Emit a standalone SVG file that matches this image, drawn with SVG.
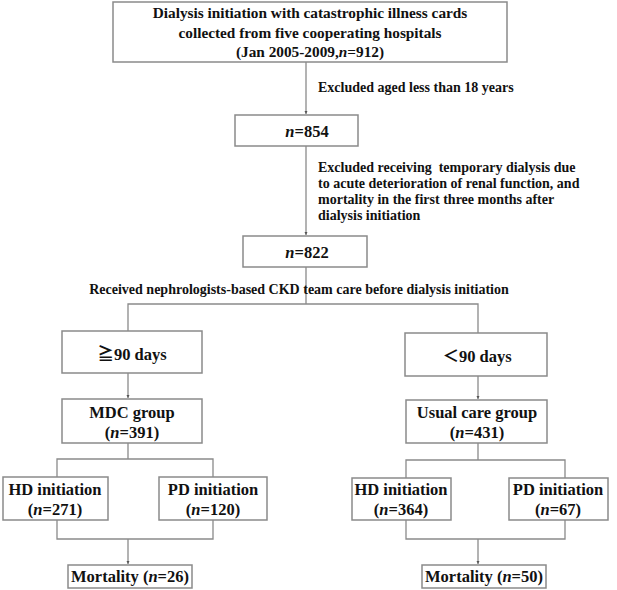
<svg xmlns="http://www.w3.org/2000/svg" width="617" height="590" viewBox="0 0 617 590">
<style>
.box{fill:#fff;stroke:#8a8a8a;stroke-width:1.5}
.ln{fill:none;stroke:#8a8a8a;stroke-width:1.3}
text{font-family:"Liberation Serif","Times New Roman","Noto Sans CJK SC",serif;font-weight:bold;fill:#111}
.t{font-size:16.5px;text-anchor:middle}
.h{font-size:15.3px;text-anchor:middle}
.s{font-size:14px}
</style>
<defs>
<marker id="ar" markerWidth="4" markerHeight="4" refX="3" refY="2" orient="auto" markerUnits="userSpaceOnUse">
<path d="M0,0.5 L3,2 L0,3.5 Z" fill="#555"/>
</marker>
</defs>
<rect width="617" height="590" fill="#fff"/>
<g id="connectors">
<path class="ln" d="M306,62 V114" marker-end="url(#ar)"/>
<path class="ln" d="M306,146 V235" marker-end="url(#ar)"/>
<path class="ln" d="M306,267 V304 M128,331 V304 H478 V333"/>
<path class="ln" d="M128,373 V398" marker-end="url(#ar)"/>
<path class="ln" d="M478,376 V399" marker-end="url(#ar)"/>
<path class="ln" d="M128,443 V459 M57,477 V459 H213 V477"/>
<path class="ln" d="M478,443 V460 M406,478 V460 H565 V478"/>
<path class="ln" d="M57,520 V539 H213 V520"/>
<path class="ln" d="M128,539 V564" marker-end="url(#ar)"/>
<path class="ln" d="M406,520 V539 H565 V520"/>
<path class="ln" d="M478,539 V564" marker-end="url(#ar)"/>
</g>
<g id="n-top">
<rect class="box" x="113" y="2" width="394" height="60"/>
<text class="h" x="310" y="18">Dialysis initiation with catastrophic illness cards</text>
<text class="h" x="310" y="38">collected from five cooperating hospitals</text>
<text class="h" x="310" y="57">(Jan 2005-2009,<tspan font-style="italic">n</tspan>=912)</text>
</g>
<g id="lbl-excl1">
<text class="s" x="318" y="92">Excluded aged less than 18 years</text>
</g>
<g id="n-854">
<rect class="box" x="235" y="115" width="123" height="31"/>
<text class="t" x="307" y="137"><tspan font-style="italic">n</tspan>=854</text>
</g>
<g id="lbl-excl2">
<text class="s" x="318" y="172" xml:space="preserve">Excluded receiving  temporary dialysis due</text>
<text class="s" x="318" y="188">to acute deterioration of renal function, and</text>
<text class="s" x="318" y="204">mortality in the first three months after</text>
<text class="s" x="318" y="220">dialysis initiation</text>
</g>
<g id="n-822">
<rect class="box" x="243" y="236" width="124" height="31"/>
<text class="t" x="307" y="258"><tspan font-style="italic">n</tspan>=822</text>
</g>
<g id="lbl-received">
<text class="s" x="299" y="294" text-anchor="middle">Received nephrologists-based CKD team care before dialysis initiation</text>
</g>
<g id="n-ge90">
<rect class="box" x="62" y="331" width="140" height="42"/>
<text class="t" x="132" y="360" font-size="17">≧90 days</text>
</g>
<g id="n-lt90">
<rect class="box" x="405" y="333" width="142" height="43"/>
<text class="t" x="477" y="362" font-size="17">＜90 days</text>
</g>
<g id="n-mdc">
<rect class="box" x="62" y="399" width="140" height="44"/>
<text class="t" x="132" y="418">MDC group</text>
<text class="t" x="132" y="438">(<tspan font-style="italic">n</tspan>=391)</text>
</g>
<g id="n-usual">
<rect class="box" x="406" y="400" width="141" height="43"/>
<text class="t" x="477" y="418">Usual care group</text>
<text class="t" x="477" y="438">(<tspan font-style="italic">n</tspan>=431)</text>
</g>
<g id="n-hd1">
<rect class="box" x="3" y="477" width="105" height="43"/>
<text class="t" x="55" y="495">HD initiation</text>
<text class="t" x="55" y="515">(<tspan font-style="italic">n</tspan>=271)</text>
</g>
<g id="n-pd1">
<rect class="box" x="159" y="477" width="108" height="43"/>
<text class="t" x="213" y="495">PD initiation</text>
<text class="t" x="213" y="515">(<tspan font-style="italic">n</tspan>=120)</text>
</g>
<g id="n-hd2">
<rect class="box" x="352" y="478" width="99" height="42"/>
<text class="t" x="401" y="495">HD initiation</text>
<text class="t" x="401" y="515">(<tspan font-style="italic">n</tspan>=364)</text>
</g>
<g id="n-pd2">
<rect class="box" x="509" y="478" width="99" height="42"/>
<text class="t" x="558" y="495">PD initiation</text>
<text class="t" x="558" y="515">(<tspan font-style="italic">n</tspan>=67)</text>
</g>
<g id="n-mort1">
<rect class="box" x="68" y="565" width="124" height="23"/>
<text class="t" x="130" y="582">Mortality (<tspan font-style="italic">n</tspan>=26)</text>
</g>
<g id="n-mort2">
<rect class="box" x="422" y="565" width="124" height="23"/>
<text class="t" x="484" y="582">Mortality (<tspan font-style="italic">n</tspan>=50)</text>
</g>
</svg>
